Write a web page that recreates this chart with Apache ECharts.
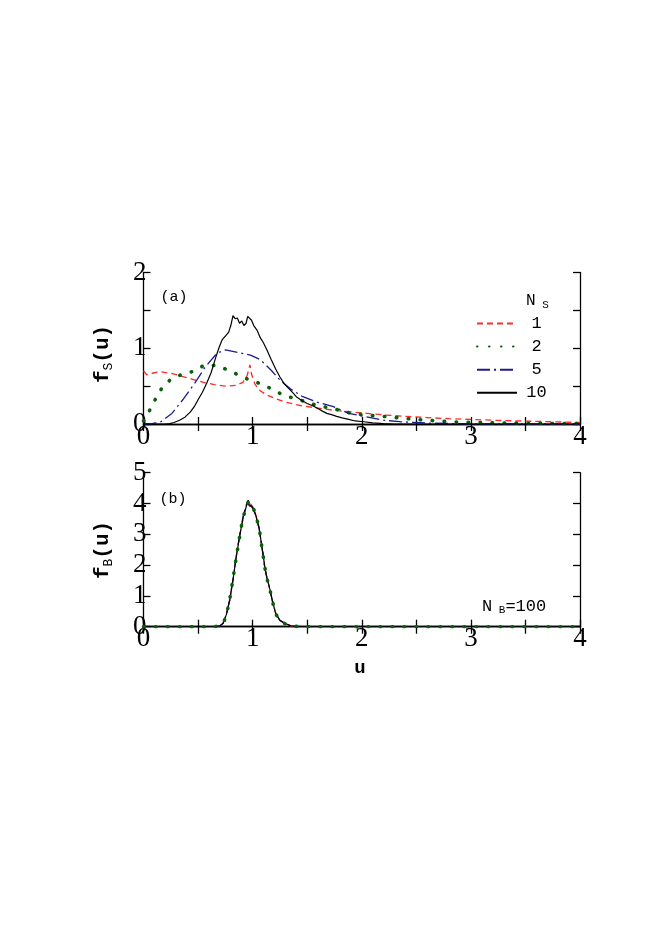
<!DOCTYPE html>
<html>
<head>
<meta charset="utf-8">
<script src="https://cdn.jsdelivr.net/npm/echarts@6/dist/echarts.min.js"></script>
<style>
html,body{margin:0;padding:0;background:#fff;}
#chart{width:654px;height:925px;}
</style>
</head>
<body>
<div id="chart"></div>
<script>
// ---------- Data ----------
const seriesNames = ['1', '2', '5', '10'];
const xTicks = [0, 1, 2, 3, 4];
const yTicksS = [0, 1, 2];
const yTicksB = [0, 1, 2, 3, 4, 5];

// Panel (a): f_S(u)
const uS1 = [0,0.03,0.08,0.15,0.25,0.35,0.45,0.55,0.65,0.75,0.85,0.91,0.95,0.975,0.99,1.02,1.06,1.12,1.2,1.3,1.45,1.6,1.75,1.9,2.05,2.2,2.4,2.6,2.8,3.0,3.3,3.6,4.0];
const fS1 = [0.70,0.65,0.67,0.69,0.67,0.63,0.59,0.55,0.52,0.50,0.51,0.55,0.64,0.78,0.66,0.53,0.45,0.39,0.34,0.29,0.24,0.21,0.18,0.16,0.14,0.12,0.10,0.085,0.07,0.06,0.045,0.035,0.02];

const uS2 = [0,0.06,0.11,0.17,0.25,0.36,0.47,0.56,0.67,0.78,0.88,0.99,1.1,1.2,1.3,1.41,1.53,1.64,1.75,1.88,2.02,2.2,2.35,2.5,2.65,2.8,3.0,3.2,3.5,3.8,4.0];
const fS2 = [0.04,0.19,0.33,0.48,0.59,0.66,0.70,0.78,0.77,0.71,0.64,0.57,0.52,0.44,0.37,0.33,0.27,0.23,0.20,0.15,0.12,0.10,0.08,0.06,0.045,0.03,0.02,0.015,0.01,0.005,0.005];

const uS5 = [0,0.08,0.16,0.26,0.36,0.47,0.56,0.67,0.75,0.85,0.98,1.07,1.17,1.25,1.36,1.46,1.59,1.74,1.88,2.02,2.2,2.35,2.5,2.66,2.85,3.0,3.5,4.0];
const fS5 = [0,0.005,0.03,0.14,0.32,0.54,0.74,0.93,0.98,0.95,0.91,0.85,0.71,0.58,0.45,0.36,0.29,0.23,0.14,0.10,0.05,0.03,0.02,0.01,0.005,0,0,0];

const uS10 = [0,0.1,0.2,0.24,0.28,0.33,0.38,0.43,0.47,0.5,0.54,0.58,0.62,0.66,0.69,0.72,0.75,0.78,0.8,0.82,0.84,0.86,0.88,0.9,0.92,0.94,0.955,0.97,0.99,1.01,1.04,1.07,1.1,1.13,1.17,1.21,1.25,1.29,1.33,1.37,1.4,1.45,1.5,1.55,1.59,1.64,1.68,1.73,1.77,1.82,1.88,1.94,2.02,2.1,2.2,2.3,2.5,3.0,4.0];
const fS10 = [0,0,0,0.005,0.02,0.05,0.09,0.16,0.24,0.32,0.42,0.54,0.68,0.87,1.0,1.11,1.16,1.21,1.3,1.43,1.39,1.40,1.33,1.36,1.30,1.33,1.42,1.40,1.37,1.30,1.24,1.14,1.07,0.98,0.85,0.73,0.62,0.53,0.47,0.41,0.36,0.31,0.27,0.24,0.21,0.17,0.14,0.12,0.10,0.08,0.06,0.04,0.03,0.015,0.005,0,0,0,0];

// Panel (b): f_B(u), N_B = 100
const uB = [0,0.5,0.65,0.7,0.73,0.76,0.79,0.82,0.85,0.88,0.9,0.915,0.93,0.95,0.96,0.97,0.99,1.01,1.03,1.04,1.06,1.08,1.1,1.11,1.13,1.16,1.18,1.21,1.25,1.3,1.35,1.4,1.5,2,3,4];
const fB1 = [0,0,0,0.03,0.12,0.42,0.85,1.50,2.30,2.95,3.28,3.55,3.78,4.02,4.10,4.05,3.95,3.85,3.62,3.52,3.18,2.74,2.28,1.98,1.62,1.20,0.86,0.46,0.20,0.10,0.03,0.01,0,0,0,0];
const fB2 = [0,0,0,0.03,0.10,0.38,0.88,1.55,2.25,2.90,3.32,3.60,3.72,3.98,4.05,3.90,3.90,3.82,3.58,3.55,3.22,2.70,2.22,1.96,1.58,1.18,0.84,0.43,0.19,0.09,0.03,0.01,0,0,0,0];
const fB5 = [0,0,0,0.02,0.11,0.41,0.86,1.54,2.28,2.93,3.35,3.62,3.80,4.05,4.08,3.92,3.90,3.78,3.58,3.55,3.18,2.68,2.24,1.94,1.60,1.18,0.86,0.45,0.21,0.10,0.03,0.01,0,0,0,0];
const fB10 = [0,0,0,0.03,0.11,0.40,0.87,1.52,2.27,2.92,3.30,3.57,3.75,4.00,4.11,3.95,3.92,3.80,3.60,3.57,3.20,2.71,2.25,1.95,1.60,1.19,0.85,0.44,0.20,0.10,0.03,0.01,0,0,0,0];

// ---------- Styles ----------
const styles = {
  '1':  {color:'#ff2a2a', type:[6,4], width:1.3, cap:'butt'},
  '2':  {color:'#0a5f0a', type:[0.5,11.5], width:3.6, cap:'round'},
  '5':  {color:'#1c1c8f', type:[13,4,2,4], width:1.3, cap:'butt'},
  '10': {color:'#000000', type:'solid', width:1.2, cap:'butt'}
};
const pairs = (u, f) => u.map((x, i) => [x, f[i]]);

const tickFont = {fontFamily:'Liberation Serif', fontSize:27, color:'#000'};
const monoFont = 'Liberation Mono';

function xAxes(grid) {
  return [
    {type:'value', gridIndex:grid, min:0, max:4, interval:0.5, position:'bottom',
     axisLine:{show:true, lineStyle:{color:'#000', width:1.3}},
     axisTick:{show:true, inside:true, length:7, lineStyle:{color:'#000', width:1.3}},
     axisLabel:{...tickFont, margin:-1, formatter:v => xTicks.includes(v) ? String(v) : ''},
     splitLine:{show:false}},
    {type:'value', gridIndex:grid, min:0, max:4, interval:0.5, position:'top',
     axisLine:{show:true, lineStyle:{color:'#000', width:1.3}},
     axisTick:{show:true, inside:true, length:7, lineStyle:{color:'#000', width:1.3}},
     axisLabel:{show:false}, splitLine:{show:false}}
  ];
}
function yAxes(grid, max, interval, ticks) {
  return [
    {type:'value', gridIndex:grid, min:0, max:max, interval:interval, position:'left',
     axisLine:{show:true, onZero:false, lineStyle:{color:'#000', width:1.3}},
     axisTick:{show:true, inside:true, length:7, lineStyle:{color:'#000', width:1.3}},
     axisLabel:{...tickFont, margin:-3, formatter:v => ticks.includes(v) ? String(v) : ''},
     splitLine:{show:false}},
    {type:'value', gridIndex:grid, min:0, max:max, interval:interval, position:'right',
     axisLine:{show:true, onZero:false, lineStyle:{color:'#000', width:1.3}},
     axisTick:{show:true, inside:true, length:7, lineStyle:{color:'#000', width:1.3}},
     axisLabel:{show:false}, splitLine:{show:false}}
  ];
}
function mkSeries(name, data, xi, yi, z) {
  const s = styles[name];
  return {
    name: name, type:'line', data: data, xAxisIndex:xi, yAxisIndex:yi,
    showSymbol:false, symbol:'none', smooth:false, animation:false, z:z,
    lineStyle:{color:s.color, type:s.type, width:s.width, cap:s.cap},
    itemStyle:{color:s.color}
  };
}

const series = [
  mkSeries('1', pairs(uS1, fS1), 0, 0, 2),
  mkSeries('2', pairs(uS2, fS2), 0, 0, 3),
  mkSeries('5', pairs(uS5, fS5), 0, 0, 4),
  mkSeries('10', pairs(uS10, fS10), 0, 0, 5),
  mkSeries('1', pairs(uB, fB1), 2, 2, 2),
  mkSeries('5', pairs(uB, fB5), 2, 2, 3),
  mkSeries('10', pairs(uB, fB10), 2, 2, 4),
  mkSeries('2', pairs(uB, fB2), 2, 2, 5)
];

const chart = echarts.init(document.getElementById('chart'), null, {renderer:'canvas'});
chart.setOption({
  animation:false,
  backgroundColor:'#ffffff',
  grid:[
    {left:143.5, top:272.5, width:436.5, height:151.5},
    {left:143.5, top:472.7, width:436.5, height:154}
  ],
  xAxis:[...xAxes(0), ...xAxes(1)],
  yAxis:[...yAxes(0, 2, 0.5, yTicksS), ...yAxes(1, 5, 1, yTicksB)],
  legend:{
    data:seriesNames, orient:'vertical', left:476, top:315, padding:0,
    itemWidth:40, itemHeight:14, itemGap:6.1, selectedMode:false,
    itemStyle:{opacity:0},
    formatter: n => '{c|' + n + '}',
    textStyle:{fontFamily:monoFont, fontSize:17, color:'#000', lineHeight:14,
      rich:{c:{width:29, align:'center', fontFamily:monoFont, fontSize:17, lineHeight:14}}}
  },
  series: series,
  graphic:[
    {type:'text', x:103, y:354, rotation:Math.PI/2,
     style:{text:'{f|f}{s|S}{f|(u)}', align:'center', verticalAlign:'middle',
       rich:{f:{fontFamily:monoFont, fontWeight:'bold', fontSize:21, fill:'#000', lineHeight:24, verticalAlign:'middle'},
             s:{fontFamily:monoFont, fontSize:13, fill:'#000', lineHeight:24, verticalAlign:'bottom'}}}},
    {type:'text', x:103, y:550, rotation:Math.PI/2,
     style:{text:'{f|f}{s|B}{f|(u)}', align:'center', verticalAlign:'middle',
       rich:{f:{fontFamily:monoFont, fontWeight:'bold', fontSize:21, fill:'#000', lineHeight:24, verticalAlign:'middle'},
             s:{fontFamily:monoFont, fontSize:13, fill:'#000', lineHeight:24, verticalAlign:'bottom'}}}},
    {type:'text', x:174, y:297,
     style:{text:'(a)', fontFamily:monoFont, fontSize:15, fill:'#000', align:'center', verticalAlign:'middle'}},
    {type:'text', x:173, y:499,
     style:{text:'(b)', fontFamily:monoFont, fontSize:15, fill:'#000', align:'center', verticalAlign:'middle'}},
    {type:'text', x:526, y:301,
     style:{text:'{n|N}{s| S}', align:'left', verticalAlign:'middle',
       rich:{n:{fontFamily:monoFont, fontSize:16, fill:'#000', lineHeight:20, verticalAlign:'middle'},
             s:{fontFamily:monoFont, fontSize:11, fill:'#000', lineHeight:20, verticalAlign:'bottom'}}}},
    {type:'text', x:482, y:606,
     style:{text:'{n|N}{s| B}{n|=100}', align:'left', verticalAlign:'middle',
       rich:{n:{fontFamily:monoFont, fontSize:17, fill:'#000', lineHeight:20, verticalAlign:'middle'},
             s:{fontFamily:monoFont, fontSize:11, fill:'#000', lineHeight:20, verticalAlign:'bottom'}}}},
    {type:'text', x:360, y:668,
     style:{text:'u', fontFamily:monoFont, fontWeight:'bold', fontSize:19, fill:'#000', align:'center', verticalAlign:'middle'}}
  ]
});
</script>
</body>
</html>
